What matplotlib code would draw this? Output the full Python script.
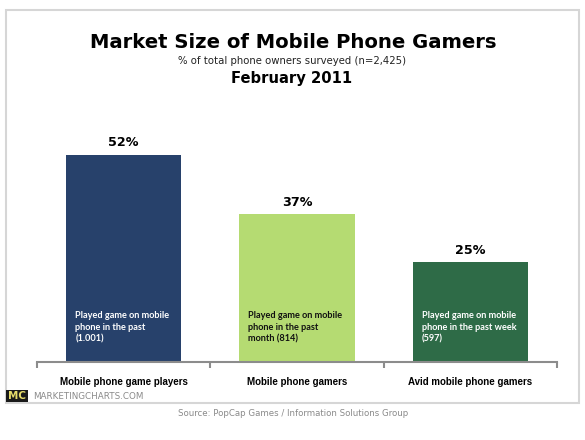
import matplotlib
matplotlib.use("Agg")
import matplotlib.pyplot as plt
from matplotlib.patches import Rectangle

categories = ["Mobile phone game players", "Mobile phone gamers", "Avid mobile phone gamers"]
shares = [52, 37, 25]
inner_notes = [
    "Played game on mobile\nphone in the past\n(1.001)",
    "Played game on mobile\nphone in the past\nmonth (814)",
    "Played game on mobile\nphone in the past week\n(597)",
]
bar_colors = ["#27416B", "#B5DB72", "#2E6B47"]
note_colors = ["white", "#111111", "white"]

W, H = 585, 440


def fx(x):
    return x / W


def fy(y):
    return 1 - y / H


fig = plt.figure(figsize=(W / 100, H / 100), dpi=100)
fig.patch.set_facecolor("white")

# outer frame
fig.add_artist(Rectangle((fx(6), fy(403)), fx(573), 393 / H, transform=fig.transFigure,
                         fill=False, edgecolor="#D6D6D6", linewidth=1.5))

# titles
fig.text(fx(293), fy(42), "Market Size of Mobile Phone Gamers", ha="center", va="center",
         fontsize=14.1, fontweight="bold", color="black")
fig.text(fx(292), fy(61), "% of total phone owners surveyed (n=2,425)", ha="center", va="center",
         fontsize=7.3, color="#222222")
fig.text(fx(292), fy(78), "February 2011", ha="center", va="center",
         fontsize=10.6, fontweight="bold", color="black")

# plot area: baseline at y=362, x from 37 to 557
ymax = 58
ax = fig.add_axes([fx(37), fy(362), fx(520), (ymax * 3.99) / H])
ax.set_xlim(0, 3)
ax.set_ylim(0, ymax)

bar_w = 0.664
xs = [i + 0.5 for i in range(len(categories))]
ax.bar(xs, shares, width=bar_w, color=bar_colors, edgecolor="none", zorder=2)

for x, v in zip(xs, shares):
    ax.annotate(f"{v}%", (x, v), xytext=(0, 4), textcoords="offset points",
                ha="center", va="bottom", fontsize=9.2, fontweight="bold", color="black")

for x, note, c in zip(xs, inner_notes, note_colors):
    ax.text(x - bar_w / 2 + 0.052, 12.8, note, ha="left", va="top", fontsize=6.6,
            fontweight="bold", color=c, family="Lato", linespacing=1.42)

for side in ["top", "right", "left"]:
    ax.spines[side].set_visible(False)
ax.spines["bottom"].set_color("#8C8C8C")
ax.spines["bottom"].set_linewidth(1.5)
ax.set_yticks([])
ax.set_xticks(xs)
ax.set_xticklabels(categories, fontsize=7.0, fontweight="bold", family="Liberation Sans")
ax.tick_params(axis="x", which="major", length=0, pad=11)
ax.set_xticks([0, 1, 2, 3], minor=True)
ax.tick_params(axis="x", which="minor", length=4, width=1.5, color="#8C8C8C", direction="out")

# footer
fig.add_artist(Rectangle((fx(6), fy(402)), fx(22), 12 / H, transform=fig.transFigure,
                         facecolor="#1A1A1A", edgecolor="none"))
fig.text(fx(17), fy(396), "MC", ha="center", va="center", fontsize=7.5, fontweight="bold",
         color="#E6DC6A")
fig.text(fx(33), fy(396), "MARKETINGCHARTS.COM", ha="left", va="center", fontsize=6.3,
         color="#8A8A8A")
fig.text(fx(293), fy(413), "Source: PopCap Games / Information Solutions Group", ha="center",
         va="center", fontsize=6.2, color="#8A8A8A")

fig.savefig("out.png", dpi=100, facecolor="white")
